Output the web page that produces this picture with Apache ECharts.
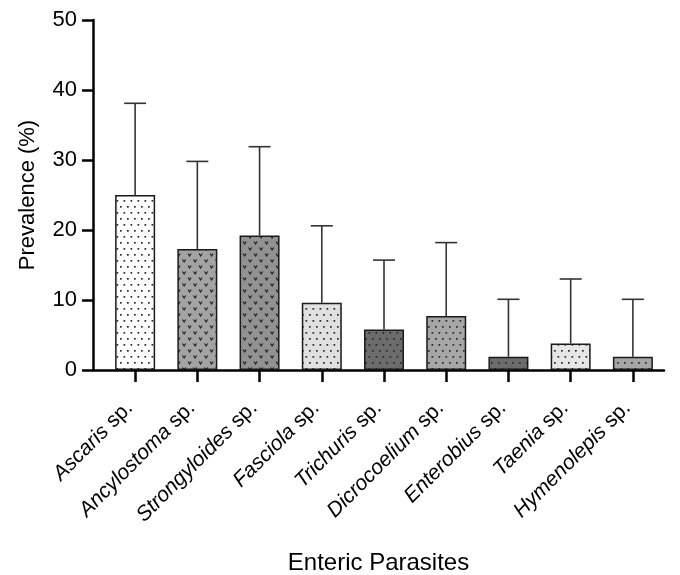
<!DOCTYPE html>
<html>
<head>
<meta charset="utf-8">
<script src="https://cdn.jsdelivr.net/npm/echarts@6/dist/echarts.min.js"></script>
<style>
html,body{margin:0;padding:0;background:#fff;}
#chart{width:680px;height:575px;}
</style>
</head>
<body>
<div id="chart"></div>
<script>
// ---- data ----
const genera = ['Ascaris', 'Ancylostoma', 'Strongyloides', 'Fasciola', 'Trichuris', 'Dicrocoelium', 'Enterobius', 'Taenia', 'Hymenolepis'];
const prevalence = [25.0, 17.3, 19.2, 9.6, 5.8, 7.7, 1.9, 3.8, 1.9];
const upperCI = [38.1, 29.8, 31.9, 20.6, 15.7, 18.2, 10.1, 13.0, 10.1];
const yMin = 0, yMax = 50, yStep = 10;

// ---- styles ----
const fills = [
  ['#ffffff', 'dot'], ['#a3a3a3', 'v'], ['#929292', 'v'],
  ['#e0e0e0', 'dot'], ['#6c6c6c', 'dot'], ['#a6a6a6', 'dot'],
  ['#6c6c6c', 'dot'], ['#e6e6e6', 'dot'], ['#a6a6a6', 'dot']
];
function makePattern(bg, kind) {
  const c = document.createElement('canvas');
  const ctx = c.getContext('2d');
  if (kind === 'dot') {
    c.width = 7; c.height = 12;
    ctx.fillStyle = bg; ctx.fillRect(0, 0, 7, 12);
    ctx.fillStyle = '#2a2a2a';
    ctx.fillRect(1, 2, 1.7, 1.7);
    ctx.fillRect(4.5, 8, 1.7, 1.7);
  } else {
    c.width = 11; c.height = 12;
    ctx.fillStyle = bg; ctx.fillRect(0, 0, 11, 12);
    ctx.strokeStyle = '#1e1e1e'; ctx.lineWidth = 1.1;
    [[1, 1.5], [6.5, 7.5]].forEach(([x, y]) => {
      ctx.beginPath();
      ctx.moveTo(x, y); ctx.lineTo(x + 1.6, y + 2.4); ctx.lineTo(x + 3.2, y);
      ctx.stroke();
    });
  }
  return { image: c, repeat: 'repeat' };
}

const barData = prevalence.map((v, i) => ({
  value: [i, v],
  itemStyle: { color: makePattern(fills[i][0], fills[i][1]) }
}));
const errData = prevalence.map((v, i) => [i, v, upperCI[i]]);
const idx = genera.map((g, i) => i);

const font = 'Liberation Sans, Arial, sans-serif';
const chart = echarts.init(document.getElementById('chart'), null, { renderer: 'canvas' });
chart.setOption({
  animation: false,
  backgroundColor: '#fff',
  grid: { left: 93, right: 16, top: 20, bottom: 205, containLabel: false, outerBoundsMode: 'none' },
  xAxis: {
    type: 'value',
    min: -0.677, max: 8.5,
    name: 'Enteric Parasites',
    nameLocation: 'middle',
    nameGap: 181,
    nameTextStyle: { fontFamily: font, fontSize: 24, color: '#000' },
    splitLine: { show: false },
    axisLine: { show: true, onZero: false, lineStyle: { color: '#000', width: 2.5 } },
    axisTick: { show: true, customValues: idx, length: 12, lineStyle: { color: '#000', width: 2.5 } },
    axisLabel: {
      customValues: idx,
      rotate: 45,
      margin: 29,
      fontFamily: font, fontSize: 21, color: '#000',
      padding: [0, 8, 0, 0],
      formatter: v => '{i|' + genera[Math.round(v)] + '} sp.',
      rich: { i: { fontStyle: 'italic', fontFamily: font, fontSize: 21, color: '#000' } }
    }
  },
  yAxis: {
    type: 'value',
    min: yMin, max: yMax, interval: yStep,
    name: 'Prevalence (%)',
    nameLocation: 'middle',
    nameGap: 54,
    nameTextStyle: { fontFamily: font, fontSize: 22, color: '#000' },
    splitLine: { show: false },
    axisLine: { show: true, onZero: false, lineStyle: { color: '#000', width: 2.5 } },
    axisTick: { show: true, length: 11, lineStyle: { color: '#000', width: 2.5 } },
    axisLabel: { margin: 16, fontFamily: font, fontSize: 22, color: '#000' }
  },
  series: [
    {
      type: 'bar',
      data: barData,
      barWidth: 40,
      itemStyle: { borderColor: '#1a1a1a', borderWidth: 1.5 }
    },
    {
      type: 'custom',
      data: errData,
      z: 3,
      renderItem: function (params, api) {
        const x = api.value(0);
        const p0 = api.coord([x, api.value(1)]);
        const p1 = api.coord([x, api.value(2)]);
        const half = 11;
        const st = { stroke: '#333', lineWidth: 1.6 };
        return {
          type: 'group',
          children: [
            { type: 'line', shape: { x1: p0[0], y1: p0[1], x2: p1[0], y2: p1[1] }, style: st },
            { type: 'line', shape: { x1: p1[0] - half, y1: p1[1], x2: p1[0] + half, y2: p1[1] }, style: st }
          ]
        };
      }
    }
  ]
});
</script>
</body>
</html>
